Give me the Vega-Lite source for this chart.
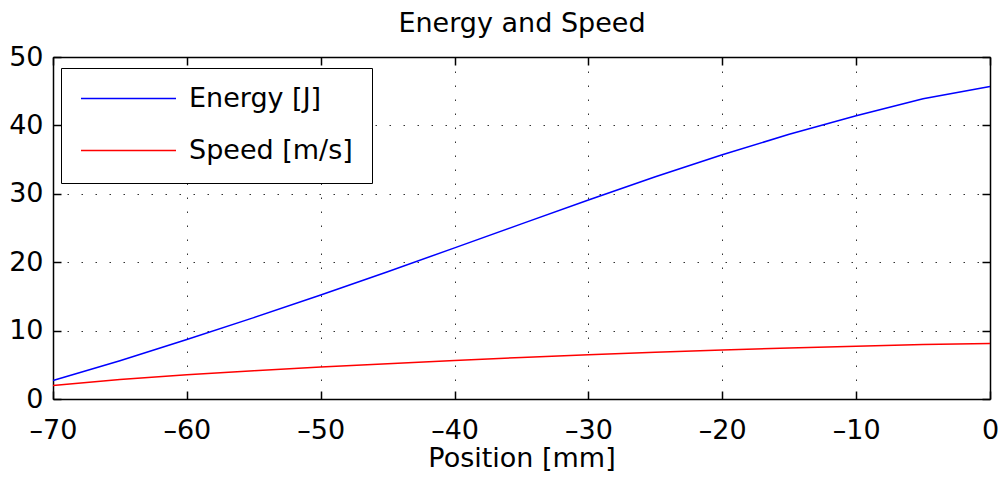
{
  "$schema": "https://vega.github.io/schema/vega-lite/v6.json",
  "width": 937,
  "height": 342,
  "autosize": {"type": "none"},
  "padding": {"left": 53, "top": 57, "right": 12, "bottom": 85},
  "background": "white",
  "config": {
    "font": "DejaVu Sans",
    "view": {"stroke": null},
    "axis": {
      "domainColor": "black",
      "domainWidth": 1.5,
      "tickColor": "black",
      "tickWidth": 1.5,
      "labelColor": "black",
      "titleColor": "black",
      "labelFont": "DejaVu Sans",
      "titleFont": "DejaVu Sans",
      "labelFontSize": 27,
      "titleFontSize": 27,
      "titleFontWeight": "normal",
      "gridColor": "black",
      "gridDash": [1.5, 12.5],
      "gridWidth": 1,
      "gridOpacity": 0.8,
      "minExtent": 0
    }
  },
  "data": {
    "values": [
      {"pos": -70, "series": "Energy [J]", "value": 2.7},
      {"pos": -65, "series": "Energy [J]", "value": 5.6},
      {"pos": -60, "series": "Energy [J]", "value": 8.7},
      {"pos": -55, "series": "Energy [J]", "value": 11.9},
      {"pos": -50, "series": "Energy [J]", "value": 15.2},
      {"pos": -45, "series": "Energy [J]", "value": 18.6},
      {"pos": -40, "series": "Energy [J]", "value": 22.1},
      {"pos": -35, "series": "Energy [J]", "value": 25.6},
      {"pos": -30, "series": "Energy [J]", "value": 29.1},
      {"pos": -25, "series": "Energy [J]", "value": 32.5},
      {"pos": -20, "series": "Energy [J]", "value": 35.7},
      {"pos": -15, "series": "Energy [J]", "value": 38.7},
      {"pos": -10, "series": "Energy [J]", "value": 41.4},
      {"pos": -5, "series": "Energy [J]", "value": 43.9},
      {"pos": 0, "series": "Energy [J]", "value": 45.7},
      {"pos": -70, "series": "Speed [m/s]", "value": 1.97},
      {"pos": -65, "series": "Speed [m/s]", "value": 2.84},
      {"pos": -60, "series": "Speed [m/s]", "value": 3.54},
      {"pos": -55, "series": "Speed [m/s]", "value": 4.14},
      {"pos": -50, "series": "Speed [m/s]", "value": 4.68},
      {"pos": -45, "series": "Speed [m/s]", "value": 5.17},
      {"pos": -40, "series": "Speed [m/s]", "value": 5.64},
      {"pos": -35, "series": "Speed [m/s]", "value": 6.07},
      {"pos": -30, "series": "Speed [m/s]", "value": 6.47},
      {"pos": -25, "series": "Speed [m/s]", "value": 6.84},
      {"pos": -20, "series": "Speed [m/s]", "value": 7.17},
      {"pos": -15, "series": "Speed [m/s]", "value": 7.46},
      {"pos": -10, "series": "Speed [m/s]", "value": 7.72},
      {"pos": -5, "series": "Speed [m/s]", "value": 7.95},
      {"pos": 0, "series": "Speed [m/s]", "value": 8.11}
    ]
  },
  "layer": [
    {
      "mark": {"type": "line", "strokeOpacity": 0},
      "encoding": {
        "x": {
          "field": "pos", "type": "quantitative",
          "scale": {"domain": [-70, 0], "nice": false, "zero": false},
          "axis": {"orient": "top", "labels": false, "title": "Energy and Speed", "titleBaseline": "alphabetic", "titlePadding": 25, "titleAnchor": "middle", "grid": false, "tickSize": -8, "minExtent": 0, "values": [-70, -60, -50, -40, -30, -20, -10, 0]}
        },
        "y": {
          "field": "value", "type": "quantitative",
          "scale": {"domain": [0, 50], "nice": false},
          "axis": {"orient": "right", "labels": false, "title": null, "grid": false, "tickSize": -8, "minExtent": 0, "values": [0, 10, 20, 30, 40, 50]}
        },
        "detail": {"field": "series"}
      }
    },
    {
      "mark": {"type": "line", "strokeWidth": 1.5},
      "encoding": {
        "x": {
          "field": "pos", "type": "quantitative",
          "scale": {"domain": [-70, 0], "nice": false, "zero": false},
          "axis": {"orient": "bottom", "title": "Position [mm]", "grid": true, "tickSize": -8, "labelPadding": 26, "titlePadding": 2, "values": [-70, -60, -50, -40, -30, -20, -10, 0], "labelFlush": false, "labelExpr": "datum.value < 0 ? '–' + abs(datum.value) : datum.label"}
        },
        "y": {
          "field": "value", "type": "quantitative",
          "scale": {"domain": [0, 50], "nice": false},
          "axis": {"orient": "left", "title": null, "grid": true, "tickSize": -8, "labelPadding": 18, "values": [0, 10, 20, 30, 40, 50], "labelFlush": false}
        },
        "color": {
          "field": "series", "type": "nominal",
          "scale": {"domain": ["Energy [J]", "Speed [m/s]"], "range": ["#0000ff", "#ff0000"]},
          "legend": {
            "orient": "none", "legendX": 8, "legendY": 11, "title": null,
            "strokeColor": "black", "fillColor": "white", "padding": 19,
            "labelFont": "DejaVu Sans", "labelFontSize": 27, "labelColor": "black", "labelLimit": 400,
            "symbolType": "stroke", "symbolSize": 9025, "symbolStrokeWidth": 1.5,
            "clipHeight": 23, "rowPadding": 24, "labelOffset": 12
          }
        }
      }
    }
  ],
  "resolve": {"axis": {"x": "independent", "y": "independent"}}
}
